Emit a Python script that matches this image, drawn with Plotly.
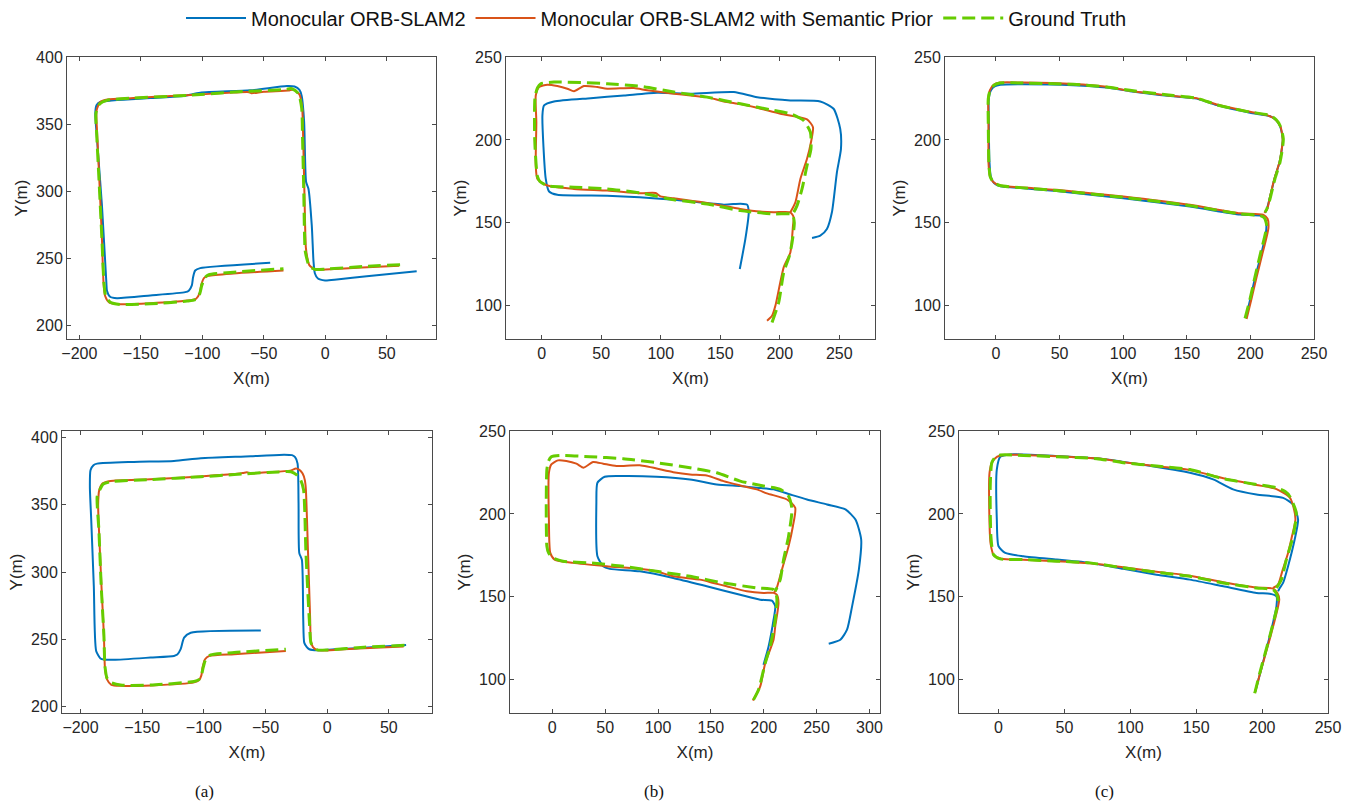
import plotly.graph_objects as go

W, H = 1356, 802
BLUE = "#0072BD"
ORANGE = "#D95319"
GREEN = "#66CC00"

# ---------------- (a) top ----------------
a1_gt_x = [60.8, 30, 0, -8, -13, -15, -16.4, -17.5, -18.5, -19.2, -21.8, -27.2, -35, -74.6, -112.5, -155.9, -177.5, -183.5, -186.5, -186, -184.3, -181.6, -180, -178.5, -174.8, -166.7, -142.3, -112.5, -105, -102, -100.4, -98, -95, -74.6, -34]
a1_gt_y = [245.3, 244, 242, 241.8, 244, 249.7, 256, 300, 340, 362, 372.7, 376.4, 375.6, 373.9, 371.4, 369.4, 367.7, 365, 358, 345, 314.3, 264.6, 232, 222, 217.4, 215.7, 216.2, 218.2, 219.5, 224, 230, 235.5, 237.8, 239.8, 242.3]
a1_or_x = [60, 30, 0, -8, -13, -14.5, -15.8, -17, -18, -18.8, -21, -26, -30, -50, -60, -62, -74.6, -112.5, -155.9, -177, -183, -186, -185.6, -184, -181.6, -180.3, -179, -175.5, -166.7, -142.3, -112.5, -105, -102, -100.8, -98.5, -95, -74.6, -34]
a1_or_y = [244.5, 243.3, 241.8, 241.5, 245, 250, 258, 300, 340, 362, 372, 375.8, 375, 374.2, 373, 373.8, 373.5, 371.6, 369.4, 368.4, 366.5, 360, 345, 314, 264.6, 232, 222, 217, 215.9, 216.6, 218.6, 220, 224.5, 230.5, 235.5, 237, 238.8, 241]
a1_bl_x = [-44.8, -101.7, -105.8, -107.5, -108.5, -111, -113.9, -142.3, -169.4, -175, -177.5, -178, -181.6, -185.6, -187, -186, -183, -142.3, -115.2, -101.7, -61.1, -31.3, -25, -21, -19.2, -17.2, -15.6, -13.7, -11, -9.6, -8.5, -6, -0.2, 9.3, 33.7, 74.3]
a1_bl_y = [246.7, 242.8, 241, 236, 229.9, 226, 224.9, 222.4, 220.4, 221.5, 226, 232, 289.5, 339, 358, 364, 366.5, 369.4, 371, 373.4, 375.2, 378.4, 378, 375.5, 371, 351.6, 306.9, 301.9, 274.6, 248, 239, 235, 233.6, 234.3, 236.8, 240.5]

# ---------------- (b) top ----------------
b1_gt_x = [193.5, 199.1, 203.3, 208, 210.3, 212.2, 211, 208.9, 194.9, 166.9, 139, 111, 83.1, 55.1, 27.1, 5, -1.5, -3.6, -5.9, -5.6, -3.5, -0.8, 10.3, 55.1, 83.1, 111, 139, 166.9, 194.9, 208.9, 216, 220.1, 225.7, 226.2, 222.9, 218.7, 214.5, 211.7, 209]
b1_gt_y = [90, 102, 120.1, 130, 138, 150, 154.5, 155.4, 155.4, 157.4, 161.4, 164, 168, 170.5, 171.5, 172.3, 175, 178, 200.7, 226, 231.5, 233.9, 234.9, 233.9, 232.3, 228.9, 225.8, 221.8, 217.8, 215.8, 213.5, 211.7, 204.7, 194.6, 184.6, 170.5, 160.4, 156.4, 154]
b1_or_x = [189.3, 193.5, 196.3, 203.3, 208.9, 211.1, 211.7, 208.9, 194.9, 183.7, 166.9, 139, 111, 99.8, 95.6, 83.1, 55.1, 27.1, 4.8, -3.6, -5, -4.5, -5, -2.2, 4.8, 13.1, 21.5, 27.1, 35.5, 46.7, 55.1, 77.5, 88.6, 111, 125, 139, 153, 166.9, 181, 200.5, 222.9, 227.9, 226.2, 222.9, 217.3, 213.1, 208.9]
b1_or_y = [91, 94, 100, 123.2, 132.2, 148.3, 153.4, 156.4, 156.4, 156.8, 158.4, 162, 164.8, 166, 168, 167.9, 169.5, 170.5, 172.5, 176.5, 184.6, 210.7, 226.8, 231.9, 233.3, 232.5, 230.9, 229.3, 232.5, 231.9, 230.9, 231.3, 229.9, 227.9, 226.8, 225.8, 223.2, 221.6, 219.4, 215.8, 212.4, 207.7, 198.6, 188.6, 176.5, 162.4, 156.4]
b1_bl_x = [166.4, 171.1, 173.9, 172.5, 166.9, 153, 111, 55.1, 13.1, 6.2, 3.4, 0.6, 2, 10.3, 41.1, 69.1, 97, 125, 161.4, 181, 208.9, 234, 245.2, 250.8, 251.4, 248, 243.8, 239.6, 234, 227.1]
b1_bl_y = [122.2, 140.3, 156.4, 161, 161.6, 161, 164, 166.4, 166.9, 168.9, 176.5, 214.8, 220.8, 223.2, 225.2, 226.8, 228.5, 227.9, 228.9, 225.8, 223.8, 223.2, 218.8, 206.7, 194.6, 180.5, 156.4, 146.3, 142.3, 140.9]

# ---------------- (c) top ----------------
c1_gt_x = [195.8, 199.7, 203.5, 207.5, 212.8, 211, 207.5, 191.8, 152.5, 100.1, 47.7, 21.5, 3.1, -2, -4.5, -5.5, -6, -6, -4.5, -1.5, 3.1, 21.5, 60.8, 87, 105.3, 139.4, 157.8, 173.5, 199.7, 215.4, 220.5, 223.3, 225.9, 223.3, 219.3, 215.4, 213, 211.5]
c1_gt_y = [92.4, 104, 117, 130.2, 148.3, 153, 154.4, 155.4, 160.4, 165.4, 169.5, 171.1, 172.5, 174.5, 178, 186, 210.7, 224.8, 230, 233, 234.3, 234.3, 233.5, 231.9, 229.9, 226.8, 225.2, 221.2, 216.8, 214.8, 212, 208.7, 200.7, 186.6, 176.5, 164.4, 158.5, 156.4]
c1_or_x = [197, 200.8, 204.8, 209, 214.2, 213.5, 210, 191.8, 152.5, 100.1, 47.7, 21.5, 3.1, -2.3, -4.8, -5.8, -5.8, -6, -4.7, -1.8, 3.1, 21.5, 60.8, 87, 105.3, 139.4, 157.8, 173.5, 199.7, 215.4, 220.7, 223.8, 225.4, 223, 219, 215.5, 213.3, 211]
c1_or_y = [92, 104, 117, 130, 147, 152.5, 155, 155.8, 160.9, 165.9, 169.9, 171.3, 172.5, 174.8, 178.5, 186, 210.7, 224.5, 230, 233.3, 234.6, 234.6, 233.7, 232, 229.6, 226.5, 225.2, 221.4, 217, 214.3, 211.5, 207.8, 200, 187, 177, 166, 158.5, 156]
c1_bl_x = [196.5, 200.2, 204, 208.5, 212.5, 212, 209, 191.8, 152.5, 100.1, 47.7, 21.5, 3.5, -1.5, -4, -5, -5.6, -5.6, -4, -1, 3.5, 21.5, 60.8, 87, 105.3, 139.4, 157.8, 173.5, 199.7, 215.4, 220.3, 223.3, 225.5, 223, 219, 215.2, 213, 211.5]
c1_bl_y = [93, 105, 118, 131, 146, 151.5, 154.2, 155, 159.8, 164.8, 169.2, 170.9, 172, 174, 178, 186, 210.7, 224.5, 229.8, 232.3, 233.3, 233.6, 233, 231.6, 229.4, 226.3, 224.9, 221, 216.4, 214.3, 211.8, 208.3, 200.5, 186.8, 176.8, 164.8, 158.5, 156.2]

# ---------------- (a) bottom ----------------
a2_gt_x = [62.7, 30, 0.4, -8, -11.5, -13.2, -14.5, -17.2, -19.1, -21.5, -25, -29.4, -48.4, -75.4, -102.5, -143.1, -175.6, -181.5, -184.5, -186.5, -185.1, -183.2, -181, -180.2, -178.5, -175.6, -167.5, -143.1, -107.9, -104, -102, -100.5, -98.5, -94.4, -75.4, -33.5]
a2_gt_y = [245.4, 244, 242, 242, 244.5, 247.4, 264.7, 314.1, 361, 368.5, 372.5, 374.6, 374.1, 372.6, 370.9, 368.9, 367.2, 365.5, 361, 356, 331.4, 289.4, 252.3, 230, 221, 217.8, 215.8, 215.8, 218.5, 219.8, 223, 229, 235, 238.3, 240, 242.5]
a2_or_x = [62, 30, 0, -8, -11.5, -13.2, -13.8, -15.5, -17.3, -18.1, -19.9, -22.5, -25.3, -30, -48.4, -62, -65, -68, -75.4, -102.5, -143.1, -175.6, -182, -184.8, -185.7, -185, -183, -181, -180.2, -178.5, -175, -167.5, -143.1, -107.9, -104, -102, -101, -99, -95.5, -75.4, -33.5]
a2_or_y = [244.5, 243.3, 241.6, 241.8, 244, 248.6, 265, 314, 362, 368.4, 373.3, 376, 377, 375.5, 374.3, 373.5, 374.2, 373.8, 372.9, 371.2, 369, 367.8, 366, 361, 350, 331, 289.4, 252.3, 229, 220, 216, 215.2, 215.5, 217.8, 219.3, 223, 229, 235, 237.5, 238.8, 241.2]
a2_bl_x = [-53.8, -110.6, -116, -118.8, -121.5, -124.2, -143.1, -172.9, -181, -183.8, -187.3, -189.2, -191.3, -192.4, -191.9, -189.5, -186.5, -156.7, -124.2, -102.5, -61.9, -34.8, -28.5, -26, -24, -23.2, -22.6, -20.5, -19.4, -18.6, -16.5, -14.5, -7.8, 5.8, 32.9, 64]
a2_bl_y = [256.5, 254.8, 251.1, 242.5, 238.5, 237.5, 236.3, 234.6, 234.8, 235.6, 241.2, 289.4, 338.8, 363.5, 375.8, 379.5, 380.7, 382, 382.7, 384.7, 386.2, 387.4, 387, 385.5, 380.7, 351.1, 314.1, 309.1, 264.7, 247.4, 244, 242.5, 241.7, 242.5, 243.7, 245.7]

# ---------------- (b) bottom ----------------
b2_gt_x = [190.3, 195.1, 201.4, 206.1, 210.9, 212.5, 211.5, 209.3, 193.5, 161.9, 130.3, 98.6, 67, 35.4, 10.1, 0.6, -3.5, -5.1, -5.7, -5.1, -3.5, -0.9, 7, 35.4, 67, 98.6, 130.3, 155.6, 177.7, 199.8, 215.6, 223.5, 226.7, 223.5, 218.8, 215.6, 210.9]
b2_gt_y = [87.9, 94, 110, 120.1, 136.2, 148.3, 152.5, 154.4, 155.4, 158.4, 162.4, 165.4, 168.5, 170.5, 171.5, 173.5, 176.5, 180.5, 206.7, 226.8, 232, 234.5, 235.3, 234.5, 233.3, 230.9, 227.9, 224.8, 219.8, 216.8, 214.8, 210.7, 202.7, 186.6, 172.5, 160.4, 153.4]
b2_or_x = [189.7, 196.7, 201.4, 209.3, 210.9, 214, 212.5, 209.3, 199.8, 184, 165, 152.4, 139.7, 114.4, 98.6, 82.8, 51.2, 19.6, 2.2, -1.9, -3.2, -3.2, -0.9, 5.4, 13.3, 22.8, 29.7, 38.6, 48.1, 60.7, 82.8, 114.4, 130.3, 146.1, 161.9, 177.7, 193.5, 203, 222, 229.8, 227.6, 223.5, 217.2, 211.8, 209.5]
b2_or_y = [87.5, 96, 110, 124.2, 132.2, 146.3, 151.3, 152.4, 152.4, 153.4, 156.4, 158.4, 160.4, 162.4, 165.4, 166.9, 168.5, 170.5, 172.5, 176.5, 196.6, 224.8, 229.9, 232.3, 231.9, 230.3, 227.9, 231.3, 230.3, 228.9, 229.3, 225.2, 223.8, 223.2, 219.8, 217.2, 214.8, 212.4, 208.7, 203.7, 192.6, 180.5, 166.4, 154.4, 152.4]
b2_bl_x = [199.8, 204.6, 209.3, 210.9, 207.7, 196.7, 177.7, 146.1, 114.4, 82.8, 54.4, 48.1, 42.7, 41.7, 42.7, 49.6, 67, 98.6, 130.3, 155.6, 177.7, 193.5, 209.3, 225.1, 240.9, 259.9, 277.3, 286.8, 292.2, 290, 283.6, 278.8, 272.5, 261.5]
b2_bl_y = [109.1, 120.1, 136.2, 144.3, 147.7, 148.3, 151.3, 156.4, 161.4, 165.4, 166.9, 168.5, 174.5, 206.7, 218.8, 222.4, 222.8, 222.4, 220.8, 217.8, 216.8, 215.8, 214.8, 211.7, 208.7, 205.7, 202.7, 196.6, 184.6, 166.4, 144.3, 130.2, 124.2, 121.8]

# ---------------- (c) bottom ----------------
c2_gt_x = [194.4, 198.2, 205.8, 210.9, 212.1, 210.5, 208.3, 195.7, 170.5, 145.2, 119.9, 94.7, 69.4, 44.2, 18.9, 1.3, -3.8, -5.8, -6.3, -5.1, -2.5, 1.3, 18.9, 44.2, 74.5, 94.7, 119.9, 145.2, 170.5, 195.7, 210.9, 217.5, 220.9, 225.9, 223.5, 218.4, 214.6, 210.9]
c2_gt_y = [91.9, 104, 126.2, 142.3, 148.3, 152.5, 154.4, 155.4, 158.4, 162.4, 164.8, 167.5, 170.5, 171.5, 172.5, 172.9, 175.5, 186.6, 216.8, 230.9, 234.2, 235.5, 235.3, 234.5, 233.3, 230.9, 228.9, 226.8, 221.2, 217.8, 215.8, 213.5, 210.7, 200.7, 186.6, 172.5, 160.4, 155.4]
c2_or_x = [194.4, 198.5, 206.3, 211.5, 213, 211.5, 208.3, 195.7, 170.5, 145.2, 119.9, 94.7, 69.4, 44.2, 18.9, 2, -3.5, -6, -7, -6.8, -5, -1, 4, 18.9, 44.2, 74.5, 94.7, 119.9, 145.2, 170.5, 195.7, 210.9, 220.9, 223.5, 225.3, 222.5, 219.7, 215.5, 212.1, 208.3]
c2_or_y = [92, 104, 126, 142, 148.5, 152.5, 155, 155.6, 158.8, 162.8, 165.1, 167.8, 170.2, 171.5, 172.4, 173, 175, 182, 200, 225, 231, 234.5, 235.6, 235.6, 234.8, 233.5, 231.2, 228.7, 226.5, 221.5, 217.5, 215, 210, 205, 196.6, 186, 176.5, 166, 157.4, 155.4]
c2_bl_x = [194.9, 205.8, 210.9, 210.9, 205.8, 195.7, 170.5, 145.2, 119.9, 94.7, 69.4, 44.2, 18.9, 5.1, 0, -1.3, -1.3, 1.3, 8.8, 44.2, 82.1, 107.3, 145.2, 162.9, 178, 195.7, 215.9, 223.5, 227.3, 224.7, 219.7, 215.9, 213.4, 212.1]
c2_bl_y = [93, 126.2, 144.3, 150.3, 151.9, 152.4, 156.4, 160.4, 163.4, 166.9, 170.5, 172.5, 174.5, 176.5, 180.5, 196.6, 226.8, 234.5, 235.9, 234.9, 232.9, 229.9, 224.8, 220.8, 214.8, 211.7, 209.7, 205.7, 196.6, 184.6, 168.5, 158.4, 155.4, 153.4]

# axis ranges and ticks
x_ranges = [[-210, 90], [-30, 280], [-40, 250], [-215, 85], [-40, 310], [-30, 250]]
y_ranges = [[190, 400], [80, 250], [80, 250], [195, 405], [80, 250], [80, 250]]
x_ticks = [[-200, -150, -100, -50, 0, 50], [0, 50, 100, 150, 200, 250], [0, 50, 100, 150, 200, 250],
           [-200, -150, -100, -50, 0, 50], [0, 50, 100, 150, 200, 250, 300], [0, 50, 100, 150, 200, 250]]
y_ticks = [[200, 250, 300, 350, 400], [100, 150, 200, 250], [100, 150, 200, 250],
           [200, 250, 300, 350, 400], [100, 150, 200, 250], [100, 150, 200, 250]]
captions = ["(a)", "(b)", "(c)"]

series = [
    (a1_bl_x, a1_bl_y, a1_or_x, a1_or_y, a1_gt_x, a1_gt_y),
    (b1_bl_x, b1_bl_y, b1_or_x, b1_or_y, b1_gt_x, b1_gt_y),
    (c1_bl_x, c1_bl_y, c1_or_x, c1_or_y, c1_gt_x, c1_gt_y),
    (a2_bl_x, a2_bl_y, a2_or_x, a2_or_y, a2_gt_x, a2_gt_y),
    (b2_bl_x, b2_bl_y, b2_or_x, b2_or_y, b2_gt_x, b2_gt_y),
    (c2_bl_x, c2_bl_y, c2_or_x, c2_or_y, c2_gt_x, c2_gt_y),
]

# pixel boxes of the six axes (left, right, top, bottom)
boxes = [(67, 436, 57, 339), (506, 875, 57, 339), (945, 1314, 57, 339),
         (62, 432, 431, 713), (510, 880, 431, 713), (959, 1328, 431, 713)]
cap_x = [204, 654, 1104]


def px_x(px):
    return px / W


def px_y(py):
    return 1 - py / H


names = ["Monocular ORB-SLAM2", "Monocular ORB-SLAM2 with Semantic Prior", "Ground Truth"]

fig = go.Figure()
for i, (bx, by, ox, oy, gx, gy) in enumerate(series):
    ax = "" if i == 0 else str(i + 1)
    first = i == 0
    fig.add_trace(go.Scatter(x=bx, y=by, mode="lines", name=names[0], legendgroup="b", showlegend=first,
                             line=dict(color=BLUE, width=2, shape="spline", smoothing=0.6),
                             xaxis="x" + ax, yaxis="y" + ax))
    fig.add_trace(go.Scatter(x=ox, y=oy, mode="lines", name=names[1], legendgroup="o", showlegend=first,
                             line=dict(color=ORANGE, width=2, shape="spline", smoothing=0.6),
                             xaxis="x" + ax, yaxis="y" + ax))
    fig.add_trace(go.Scatter(x=gx, y=gy, mode="lines", name=names[2], legendgroup="g", showlegend=first,
                             line=dict(color=GREEN, width=3, dash="13px,6px", shape="spline", smoothing=0.6),
                             xaxis="x" + ax, yaxis="y" + ax))

FONT = "Liberation Sans, Arial, sans-serif"
axcol = "#4a4a4a"
layout = dict(
    width=W, height=H, margin=dict(l=0, r=0, t=0, b=0, autoexpand=False),
    paper_bgcolor="white", plot_bgcolor="white",
    font=dict(family=FONT, size=16, color="#262626"),
    legend=dict(orientation="h", xref="container", yref="container",
                x=px_x(656.5), xanchor="center", y=px_y(18), yanchor="middle",
                font=dict(family=FONT, size=20, color="#111111"), bgcolor="rgba(0,0,0,0)",
                itemwidth=60, tracegroupgap=0),
    showlegend=True,
)
for i, (l, r, t, b) in enumerate(boxes):
    suf = "" if i == 0 else str(i + 1)
    common = dict(showline=True, linecolor=axcol, linewidth=1, mirror="ticks", ticks="inside",
                  ticklen=4, tickcolor=axcol, showgrid=False, zeroline=False, automargin=False,
                  tickfont=dict(family=FONT, size=16, color="#262626"))
    layout["xaxis" + suf] = dict(domain=[px_x(l), px_x(r)], range=x_ranges[i], tickvals=x_ticks[i],
                                 anchor="y" + suf, title=dict(text="X(m)", standoff=10,
                                 font=dict(family=FONT, size=17, color="#262626")), **common)
    layout["yaxis" + suf] = dict(domain=[px_y(b), px_y(t)], range=y_ranges[i], tickvals=y_ticks[i],
                                 anchor="x" + suf, title=dict(text="Y(m)", standoff=4,
                                 font=dict(family=FONT, size=17, color="#262626")), **common)

layout["annotations"] = [dict(text=c, x=px_x(px), y=px_y(791), xref="paper", yref="paper",
                              showarrow=False, xanchor="center", yanchor="middle",
                              font=dict(family="Liberation Serif, Times New Roman, serif", size=17, color="#111"))
                         for c, px in zip(captions, cap_x)]
fig.update_layout(**layout)
# remove the browser's default 8px page margin so the figure fills the window exactly
fig.write_html("out.html", config={"displayModeBar": False},
               post_script="document.body.style.margin='0';document.body.style.overflow='hidden';")
